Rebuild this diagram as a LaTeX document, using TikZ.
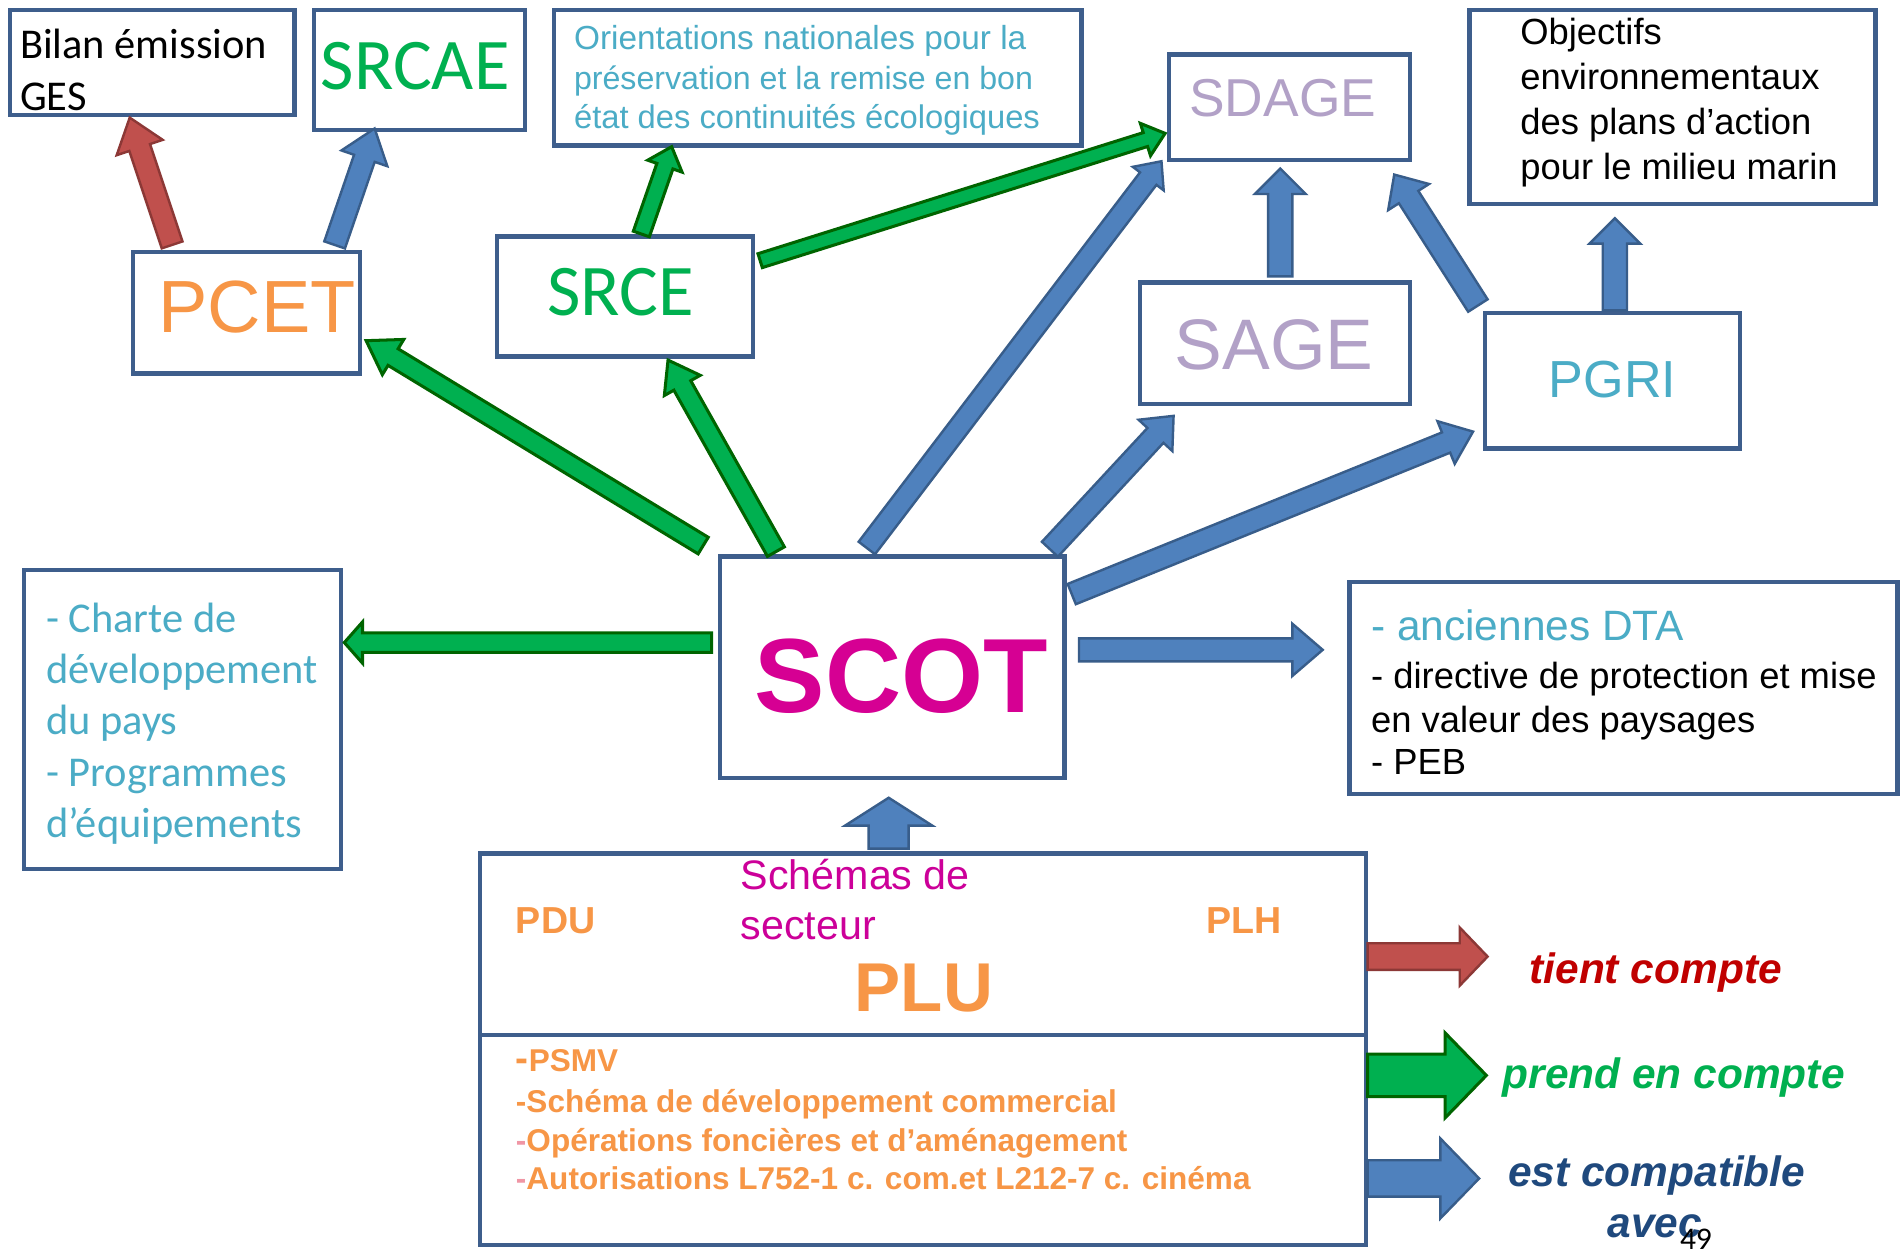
\documentclass[tikz,border=0pt]{standalone}
\usepackage{fontspec}
\setmainfont{Liberation Sans}
\newfontfamily\calibri{Carlito}
\usetikzlibrary{calc}
\definecolor{boxline}{RGB}{62,94,140}
\definecolor{arrblue}{RGB}{79,129,189}
\definecolor{arrblueD}{RGB}{56,93,138}
\definecolor{arrgreen}{RGB}{0,176,80}
\definecolor{arrgreenD}{RGB}{0,100,0}
\definecolor{arrred}{RGB}{192,80,77}
\definecolor{arrredD}{RGB}{140,56,54}
\definecolor{tealT}{RGB}{75,172,198}
\definecolor{greenT}{RGB}{0,176,80}
\definecolor{orangeT}{RGB}{247,150,70}
\definecolor{lavT}{RGB}{178,161,199}
\definecolor{scotM}{RGB}{214,0,147}
\definecolor{schemM}{RGB}{204,0,153}
\definecolor{pinkT}{RGB}{240,150,165}
\definecolor{tientC}{RGB}{192,0,0}
\definecolor{estC}{RGB}{31,73,125}
\tikzset{
  box/.style={draw=boxline, line width=3.5pt, fill=white, inner sep=0pt, outer sep=0pt},
  txt/.style={inner sep=0pt, outer sep=0pt, anchor=base west},
  ctxt/.style={inner sep=0pt, outer sep=0pt, anchor=base},
  blueA/.style={fill=arrblue, draw=arrblueD, line width=2pt, line join=miter},
  greenA/.style={fill=arrgreen, draw=arrgreenD, line width=2.5pt, line join=miter},
  redA/.style={fill=arrred, draw=arrredD, line width=2pt, line join=miter},
}
\newcommand\fs[2]{\fontsize{#1}{#2}\selectfont}
% block arrow: style, start, end, half body width, half head width, head length
\newcommand\barrow[6]{%
  \coordinate (bh) at ($(#3)!#6!(#2)$);
  \draw[#1] ($(#2)!#4!90:(#3)$) -- ($(bh)!#4!-90:(#2)$) -- ($(bh)!#5!-90:(#2)$)
    -- (#3) -- ($(bh)!#5!90:(#2)$) -- ($(bh)!#4!90:(#2)$) -- ($(#2)!#4!-90:(#3)$) -- cycle;
}
\begin{document}
\begin{tikzpicture}[x=1pt,y=-1pt]
\useasboundingbox[fill=white] (0,0) rectangle (1568,1034);

% ---------- boxes ----------
\node[box, minimum width=235pt, minimum height=87pt] (bilan) at (125.5,51.5) {};
\node[box, minimum width=174pt, minimum height=99pt] (srcae) at (346,57.5) {};
\node[box, minimum width=435pt, minimum height=112pt] (orient) at (674.5,64) {};
\node[box, minimum width=199pt, minimum height=87pt] (sdage) at (1063.5,88.5) {};
\node[box, minimum width=335pt, minimum height=160pt] (objectifs) at (1379.5,88) {};
\node[box, minimum width=187pt, minimum height=100pt] (pcet) at (203.5,258) {};
\node[box, minimum width=211pt, minimum height=99pt] (srce) at (515.5,244.5) {};
\node[box, minimum width=223pt, minimum height=100pt] (sage) at (1051.5,283) {};
\node[box, minimum width=210pt, minimum height=112pt] (pgri) at (1330,314) {};
\node[box, minimum width=261pt, minimum height=247pt] (charte) at (150.5,593.5) {};
\node[box, minimum width=284pt, minimum height=183pt] (scot) at (736,550.5) {};
\node[box, minimum width=452pt, minimum height=175pt] (dta) at (1339,567.5) {};
\node[box, minimum width=731pt, minimum height=323pt] (plu) at (761.5,865.5) {};
\coordinate (div) at (761.5,853.5);
\draw[draw=boxline, line width=3.5pt] (plu.west |- div) -- (plu.east |- div);

% ---------- texts ----------
\node[txt] (t-bilan1) at (16.6,48) {\calibri\fs{35}{40}Bilan émission};
\node[txt] (t-bilan2) at (16.6,91) {\calibri\fs{35}{40}GES};
\node[ctxt, text=greenT] (t-srcae) at (342.5,74) {\calibri\fs{60}{70}SRCAE};
\node[txt, text=tealT] (t-or1) at (473.5,41) {\fs{27.5}{32}Orientations nationales pour la};
\node[txt, text=tealT] (t-or2) at (473.5,73.5) {\fs{26.5}{32}préservation et la remise en bon};
\node[txt, text=tealT] (t-or3) at (473.5,106) {\fs{27}{32}état des continuités écologiques};
\node[ctxt, text=lavT] (t-sdage) at (1058,96) {\fs{44}{50}SDAGE};
\node[txt] (t-ob1) at (1254,37) {\fs{30}{36}Objectifs};
\node[txt] (t-ob2) at (1254,74) {\fs{30}{36}environnementaux};
\node[txt] (t-ob3) at (1254,111) {\fs{30}{36}des plans d’action};
\node[txt] (t-ob4) at (1254,148) {\fs{30}{36}pour le milieu marin};
\node[ctxt, text=orangeT] (t-pcet) at (212,274) {\fs{61}{70}PCET};
\node[ctxt, text=greenT] (t-srce) at (512,260) {\calibri\fs{60}{70}SRCE};
\node[ctxt, text=lavT] (t-sage) at (1051,305) {\fs{59}{70}SAGE};
\node[ctxt, text=tealT] (t-pgri) at (1330,328) {\fs{43}{50}PGRI};
\node[txt, text=tealT] (t-ch1) at (38,522) {\calibri\fs{35}{40}- Charte de};
\node[txt, text=tealT] (t-ch2) at (38,564) {\calibri\fs{35}{40}développement};
\node[txt, text=tealT] (t-ch3) at (38,606) {\calibri\fs{35}{40}du pays};
\node[txt, text=tealT] (t-ch4) at (38,649) {\calibri\fs{35}{40}- Programmes};
\node[txt, text=tealT] (t-ch5) at (38,691) {\calibri\fs{35}{40}d’équipements};
\node[ctxt, text=scotM] (t-scot) at (743.5,588) {\bfseries\fs{87}{96}SCOT};
\node[txt, text=tealT] (t-dta1) at (1131,528) {\fs{35}{40}- anciennes DTA};
\node[txt] (t-dta2) at (1131,568) {\fs{30}{36}- directive de protection et mise};
\node[txt] (t-dta3) at (1131,604) {\fs{30}{36}en valeur des paysages};
\node[txt] (t-dta4) at (1131,639) {\fs{30}{36}- PEB};
\node[txt, text=orangeT] (t-pdu) at (425.6,769.6) {\bfseries\fs{31}{36}PDU};
\node[txt, text=orangeT] (t-plh) at (995,769.6) {\bfseries\fs{31}{36}PLH};
\node[txt, text=schemM] (t-sch1) at (611,734) {\fs{34}{40}Schémas de};
\node[txt, text=schemM] (t-sch2) at (611,775) {\fs{34}{40}secteur};
\node[txt, text=orangeT] (t-plu) at (705,834.7) {\bfseries\fs{57}{64}PLU};
\node[txt, text=orangeT] (t-l1) at (425.6,884) {\bfseries\fs{26}{31}{\fs{32}{31}-}PSMV};
\node[txt, text=orangeT] (t-l2) at (425.6,918) {\bfseries\fs{26}{31}-Schéma de développement commercial};
\node[txt, text=orangeT] (t-l3) at (425.6,950) {\bfseries\fs{26}{31}\textcolor{pinkT}{-}Opérations foncières et d’aménagement};
\node[txt, text=orangeT] (t-l4) at (425.6,981) {\bfseries\fs{26}{31}\textcolor{pinkT}{-}Autorisations L752-1 c. com.et L212-7 c. cinéma};
\node[txt, text=tientC] (t-tient) at (1261.6,811) {\bfseries\itshape\fs{35}{40}tient compte};
\node[txt, text=greenT] (t-prend) at (1239.5,897.5) {\bfseries\itshape\fs{35}{40}prend en compte};
\node[txt, text=estC] (t-est) at (1244,979) {\bfseries\itshape\fs{35}{40}est compatible};
\node[txt, text=estC] (t-avec) at (1326,1021) {\bfseries\itshape\fs{35}{40}avec};
\node[txt] (t-49) at (1385.7,1031) {\calibri\fs{26}{30}49};

% ---------- arrow end points ----------
\coordinate (a1s) at (142,202);   \coordinate (a1e) at (107,97);
\coordinate (a2s) at (276,202);   \coordinate (a2e) at (309,106);
\coordinate (a3s) at (580,450);   \coordinate (a3e) at (302,281);
\coordinate (a4s) at (640,455);   \coordinate (a4e) at (551,297);
\coordinate (a5s) at (529,193);   \coordinate (a5e) at (554,121);
\coordinate (a6s) at (627,215);   \coordinate (a6e) at (961,110);
\coordinate (a7s) at (715,452);   \coordinate (a7e) at (958,133);
\coordinate (a8s) at (1056,228);  \coordinate (a8e) at (1056,139);
\coordinate (a9s) at (1219,252);  \coordinate (a9e) at (1150,144);
\coordinate (a10s) at (1332,256); \coordinate (a10e) at (1332,180);
\coordinate (a11s) at (866,453);  \coordinate (a11e) at (968,343);
\coordinate (a12s) at (884,490);  \coordinate (a12e) at (1215,356);
\coordinate (a13s) at (587,530);  \coordinate (a13e) at (284,530);
\coordinate (a14s) at (890,536);  \coordinate (a14e) at (1091,536);
\coordinate (a15s) at (733,700);  \coordinate (a15e) at (733,658);
\coordinate (l1s) at (1128,789);  \coordinate (l1e) at (1227,789);
\coordinate (l2s) at (1128,887);  \coordinate (l2e) at (1226,887);
\coordinate (l3s) at (1128,972);  \coordinate (l3e) at (1220,972);

% ---------- arrows ----------
\barrow{redA}{a1s}{a1e}{9pt}{20pt}{26pt}
\barrow{blueA}{a2s}{a2e}{9pt}{20pt}{26pt}
\barrow{greenA}{a3s}{a3e}{8pt}{17pt}{26pt}
\barrow{greenA}{a4s}{a4e}{8pt}{17pt}{24pt}
\barrow{greenA}{a5s}{a5e}{7pt}{15pt}{17pt}
\barrow{greenA}{a6s}{a6e}{6pt}{14pt}{17pt}
\barrow{blueA}{a7s}{a7e}{8.5pt}{16pt}{18pt}
\barrow{blueA}{a8s}{a8e}{10pt}{21pt}{21pt}
\barrow{blueA}{a9s}{a9e}{9.5pt}{20pt}{22pt}
\barrow{blueA}{a10s}{a10e}{10pt}{21pt}{21pt}
\barrow{blueA}{a11s}{a11e}{9pt}{19pt}{22pt}
\barrow{blueA}{a12s}{a12e}{9pt}{19pt}{24pt}
\barrow{greenA}{a13s}{a13e}{8pt}{17pt}{15pt}
\barrow{blueA}{a14s}{a14e}{9.5pt}{21.5pt}{25pt}
\barrow{blueA}{a15s}{a15e}{16.5pt}{36pt}{23pt}
\barrow{redA}{l1s}{l1e}{11pt}{24pt}{23pt}
\barrow{greenA}{l2s}{l2e}{17.5pt}{35pt}{34pt}
\barrow{blueA}{l3s}{l3e}{15pt}{33pt}{32pt}
\end{tikzpicture}
\end{document}
